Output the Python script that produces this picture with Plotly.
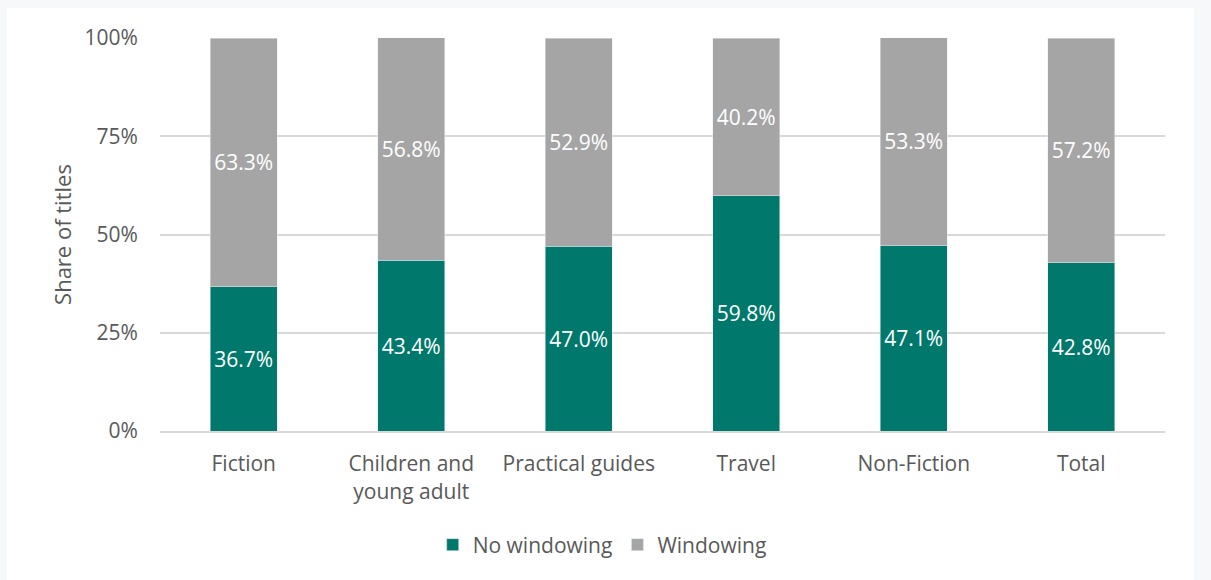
import plotly.graph_objects as go

categories = ["Fiction", "Children and<br>young adult", "Practical guides", "Travel", "Non-Fiction", "Total"]
no_windowing = [36.7, 43.4, 47.0, 59.8, 47.1, 42.8]
windowing = [63.3, 56.8, 52.9, 40.2, 53.3, 57.2]
tick_vals = [0, 25, 50, 75, 100]
tick_text = ["0%", "25%", "50%", "75%", "100%"]

GREEN = "#00786b"
GREY = "#a5a5a5"
TEXT = "#595959"
FONT = "Open Sans"
FS = 21

fig = go.Figure()
fig.add_trace(go.Bar(
    name="No windowing", x=categories, y=no_windowing, marker_color=GREEN,
    text=[f"{v:.1f}%" for v in no_windowing], textposition="inside",
    insidetextanchor="middle", textfont=dict(color="white", size=FS, family=FONT),
    hoverinfo="skip",
))
fig.add_trace(go.Bar(
    name="Windowing", x=categories, y=windowing, marker_color=GREY,
    text=[f"{v:.1f}%" for v in windowing], textposition="inside",
    insidetextanchor="middle", textfont=dict(color="white", size=FS, family=FONT),
    hoverinfo="skip",
))

L, R, T, B = 160, 46, 38, 149
W, H = 1211, 580
pw, ph = W - L - R, H - T - B

# white card on a light grey page
fig.add_shape(
    type="rect", xref="paper", yref="paper", layer="below",
    x0=(7 - L) / pw, x1=(1194 - L) / pw,
    y0=(H - B - 590) / ph, y1=(H - B - 8) / ph,
    fillcolor="white", line_width=0,
)

fig.update_layout(
    barmode="stack", bargap=0.6,
    width=W, height=H,
    margin=dict(l=L, r=R, t=T, b=B, pad=0),
    paper_bgcolor="#f7f8fa", plot_bgcolor="white",
    font=dict(family=FONT, color=TEXT, size=FS),
    uniformtext=dict(mode=False),
    legend=dict(
        orientation="h", x=0.44, xanchor="center", y=(H - B - 545) / ph, yanchor="middle",
        font=dict(size=FS, color=TEXT), traceorder="normal", itemwidth=30,
        bgcolor="rgba(0,0,0,0)",
    ),
    xaxis=dict(
        showgrid=False, showline=True, linecolor="#d9d9d9", linewidth=2,
        tickfont=dict(size=FS, color=TEXT), ticks="outside", ticklen=13,
        tickcolor="rgba(0,0,0,0)", fixedrange=True,
    ),
    yaxis=dict(
        range=[0, 100], tickvals=tick_vals, ticktext=tick_text,
        showgrid=True, gridcolor="#d9d9d9", gridwidth=1.5, zeroline=False,
        tickfont=dict(size=FS, color=TEXT), ticks="outside", ticklen=17,
        tickcolor="rgba(0,0,0,0)",
        title=dict(text="Share of titles", font=dict(size=22, color=TEXT), standoff=6),
    ),
)

fig.write_html("out.html")
